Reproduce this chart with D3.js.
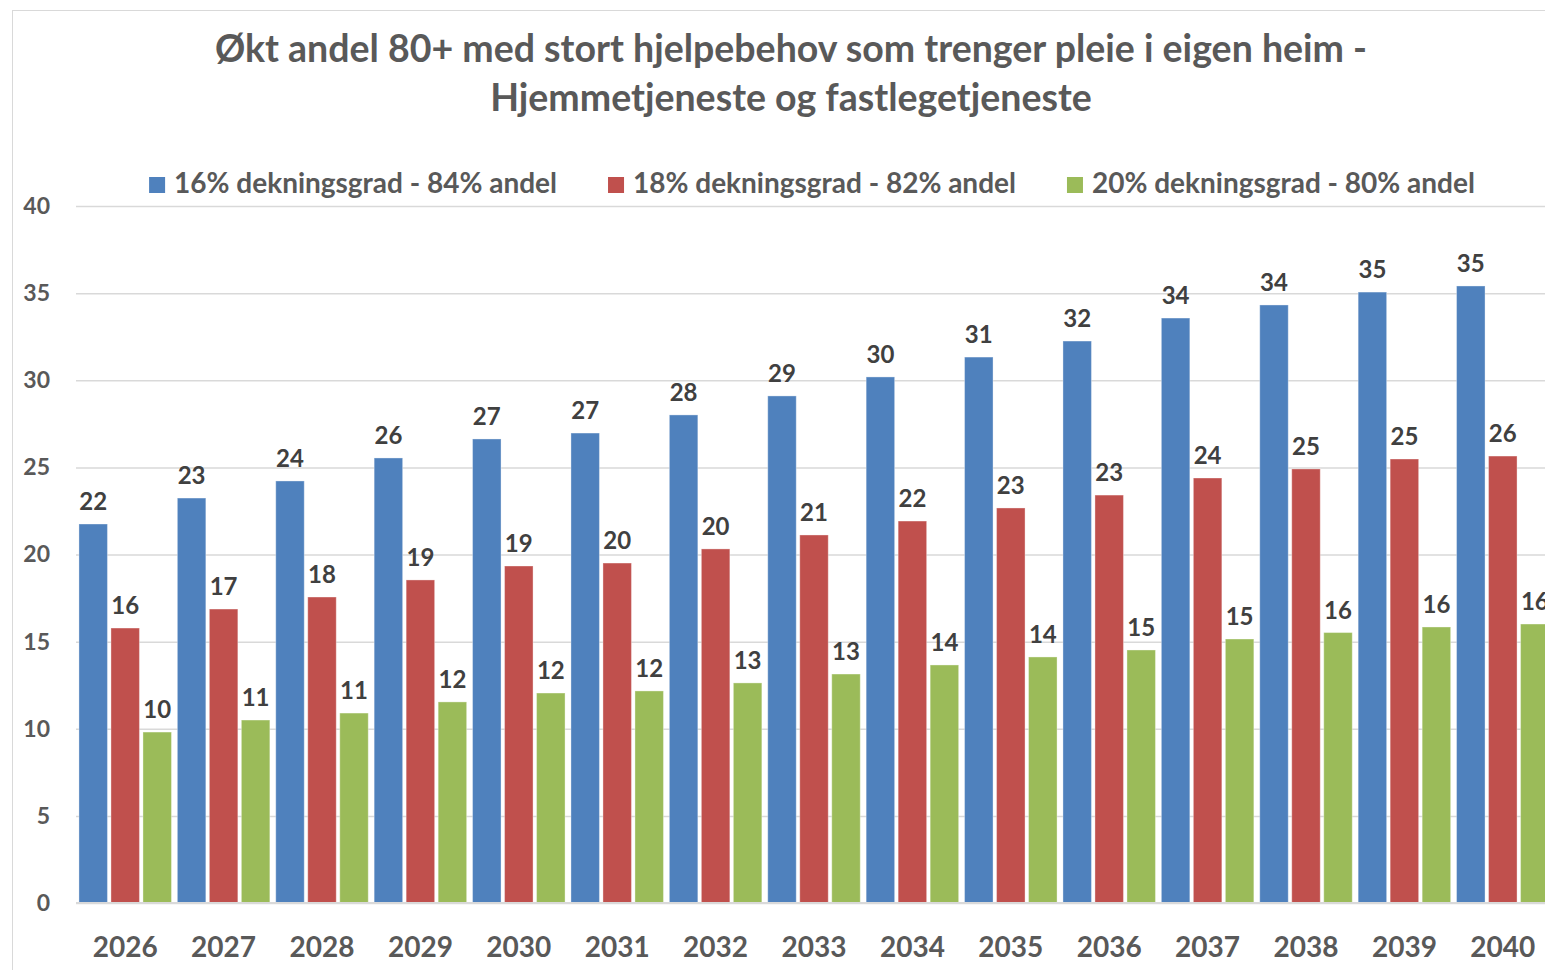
<!DOCTYPE html>
<html>
<head>
<meta charset="utf-8">
<script src="https://cdn.jsdelivr.net/npm/d3@7"></script>
<style>
  body { margin: 0; background: #fff; }
  svg { display: block; font-family: Lato, "Open Sans", sans-serif; }
</style>
</head>
<body>
<div id="chart"></div>
<script>
// data
var years = ["2026", "2027", "2028", "2029", "2030", "2031", "2032", "2033", "2034", "2035", "2036", "2037", "2038", "2039", "2040"];
var seriesNames = ["16% dekningsgrad - 84% andel", "18% dekningsgrad - 82% andel", "20% dekningsgrad - 80% andel"];
var s16 = [21.75, 23.24, 24.22, 25.54, 26.63, 26.97, 28.01, 29.10, 30.19, 31.33, 32.25, 33.57, 34.32, 35.06, 35.41];
var s18 = [15.78, 16.87, 17.56, 18.54, 19.34, 19.51, 20.32, 21.12, 21.92, 22.67, 23.41, 24.39, 24.91, 25.48, 25.65];
var s20 = [9.81, 10.50, 10.90, 11.54, 12.05, 12.17, 12.63, 13.14, 13.66, 14.12, 14.52, 15.15, 15.52, 15.84, 16.01];
var yTicks = [0, 5, 10, 15, 20, 25, 30, 35, 40];
var colors = ["#4f81bd", "#c0504d", "#9bbb59"];

var width = 1545, height = 970;
var margin = {top: 206, left: 76, bottom: 67};
var plotRight = 1552;

var svg = d3.select("#chart").append("svg")
  .attr("width", width)
  .attr("height", height);

// chart border
svg.append("rect")
  .attr("x", 12.5).attr("y", 10.5)
  .attr("width", 1600).attr("height", 1000)
  .attr("fill", "none")
  .attr("stroke", "#d9d9d9");

// title
var title = svg.append("text")
  .attr("text-anchor", "middle")
  .attr("fill", "#595959")
  .style("font-size", "37.5px")
  .style("font-weight", "bold");
title.append("tspan").attr("x", 791).attr("y", 62).text("Økt andel 80+ med stort hjelpebehov som trenger pleie i eigen heim -");
title.append("tspan").attr("x", 791).attr("y", 111).text("Hjemmetjeneste og fastlegetjeneste");

var x0 = d3.scaleBand()
  .domain(years)
  .range([margin.left, plotRight])
  .paddingInner(0.06)
  .paddingOuter(0.03);

var x1 = d3.scaleBand()
  .domain([0, 1, 2])
  .range([0, x0.bandwidth()])
  .paddingInner(0.11);

var y = d3.scaleLinear()
  .domain([0, 40])
  .range([height - margin.bottom, margin.top]);

// gridlines
var yAxis = d3.axisLeft(y)
  .tickValues(yTicks)
  .tickSize(-(width - margin.left))
  .tickPadding(26);

var gy = svg.append("g")
  .attr("transform", "translate(" + margin.left + ",0)")
  .call(yAxis);
gy.select(".domain").remove();
gy.selectAll(".tick line").attr("stroke", "#d9d9d9").attr("stroke-width", 1.5);
gy.selectAll(".tick text")
  .attr("fill", "#595959")
  .style("font-size", "23px")
  .style("font-weight", "bold")
  .style("font-family", "Lato, sans-serif");

// bars
var rows = years.map(function(yr, i) {
  return {year: yr, values: [s16[i], s18[i], s20[i]]};
});

var groups = svg.append("g").selectAll("g")
  .data(rows)
  .enter().append("g")
  .attr("transform", function(d) { return "translate(" + x0(d.year) + ",0)"; });

groups.selectAll("rect")
  .data(function(d) { return d.values; })
  .enter().append("rect")
  .attr("x", function(d, i) { return x1(i); })
  .attr("y", function(d) { return y(d); })
  .attr("width", x1.bandwidth())
  .attr("height", function(d) { return y(0) - y(d); })
  .attr("fill", function(d, i) { return colors[i]; })
  .attr("stroke", "#fff")
  .attr("stroke-opacity", 0.35)
  .attr("stroke-width", 1);

groups.selectAll("text")
  .data(function(d) { return d.values; })
  .enter().append("text")
  .attr("x", function(d, i) { return x1(i) + x1.bandwidth() / 2; })
  .attr("y", function(d) { return y(d) - 14; })
  .attr("text-anchor", "middle")
  .attr("fill", "#404040")
  .style("font-size", "24px")
  .style("font-weight", "bold")
  .text(function(d) { return Math.round(d); });

// baseline
svg.append("line")
  .attr("x1", margin.left).attr("x2", width)
  .attr("y1", y(0)).attr("y2", y(0))
  .attr("stroke", "#d9d9d9")
  .attr("stroke-width", 2);

// x labels
var xAxis = d3.axisBottom(x0).tickSize(0).tickPadding(34);
var gx = svg.append("g")
  .attr("transform", "translate(0," + y(0) + ")")
  .call(xAxis);
gx.select(".domain").remove();
gx.selectAll(".tick text")
  .attr("fill", "#595959")
  .style("font-size", "28px")
  .style("font-weight", "bold")
  .style("font-family", "Lato, sans-serif");

// legend
var legend = svg.append("g");
var items = legend.selectAll("g")
  .data(seriesNames)
  .enter().append("g");
items.append("rect")
  .attr("width", 16).attr("height", 16)
  .attr("y", -16)
  .attr("fill", function(d, i) { return colors[i]; });
items.append("text")
  .attr("x", 25)
  .attr("y", 0)
  .attr("fill", "#595959")
  .style("font-size", "28px")
  .style("font-weight", "bold")
  .text(function(d) { return d; });

var gap = 51, xpos = 0;
items.each(function() {
  var w = this.getBBox().width;
  d3.select(this).attr("transform", "translate(" + xpos + ",0)");
  xpos += w + gap;
});
var total = xpos - gap;
legend.attr("transform", "translate(" + (812 - total / 2) + ",193)");
</script>
</body>
</html>
